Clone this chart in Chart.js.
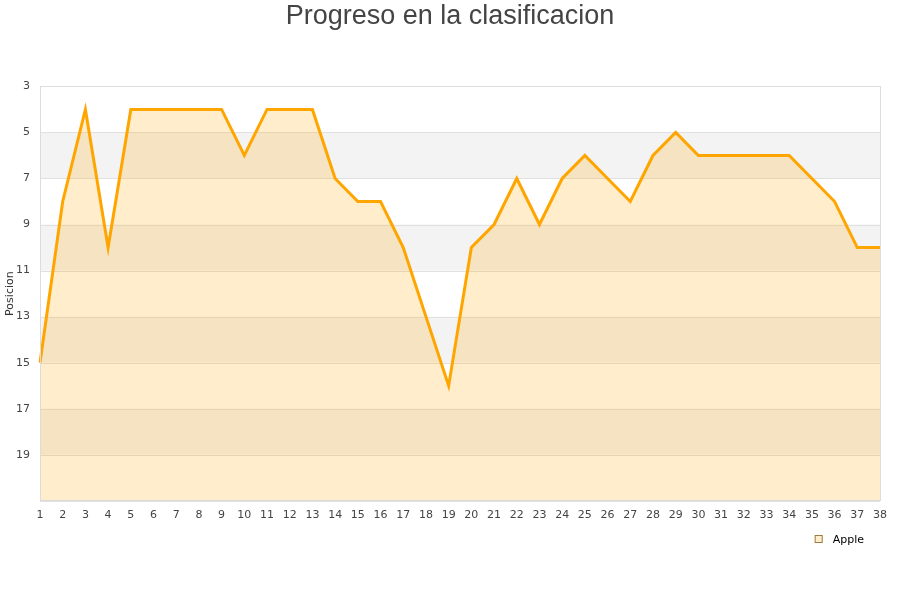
<!DOCTYPE html>
<html>
<head>
<meta charset="utf-8">
<script src="https://cdn.jsdelivr.net/npm/chart.js@4.4.0/dist/chart.umd.min.js"></script>
<style>
html,body{margin:0;padding:0;background:#fff;}
#wrap{width:900px;height:600px;}
</style>
</head>
<body>
<div id="wrap"><canvas id="c" width="900" height="600"></canvas></div>
<script>
const jornadas = ["1","2","3","4","5","6","7","8","9","10","11","12","13","14","15","16","17","18","19","20","21","22","23","24","25","26","27","28","29","30","31","32","33","34","35","36","37","38"];
const posicionApple = [15,8,4,10,4,4,4,4,4,6,4,4,4,7,8,8,10,13,16,10,9,7,9,7,6,7,8,6,5,6,6,6,6,6,7,8,10,10];
const yTicks = [3,5,7,9,11,13,15,17,19,21];

const bandsPlugin = {
  id: 'bands',
  beforeDatasetsDraw(chart) {
    const {ctx, chartArea, scales} = chart;
    const y = scales.y;
    ctx.save();
    for (let i = 0; i < yTicks.length - 1; i++) {
      if (i % 2 === 1) {
        const y1 = y.getPixelForValue(yTicks[i]);
        const y2 = y.getPixelForValue(yTicks[i + 1]);
        ctx.fillStyle = '#f3f3f3';
        ctx.fillRect(chartArea.left, Math.min(y1, y2), chartArea.right - chartArea.left, Math.abs(y2 - y1));
      }
    }
    ctx.strokeStyle = '#e0e0e0';
    ctx.lineWidth = 1;
    for (const t of yTicks) {
      const py = Math.round(y.getPixelForValue(t)) + 0.5;
      ctx.beginPath();
      ctx.moveTo(chartArea.left, py);
      ctx.lineTo(chartArea.right, py);
      ctx.stroke();
    }
    ctx.restore();
  },
  afterDatasetsDraw(chart) {
    const {ctx, chartArea} = chart;
    ctx.save();
    ctx.strokeStyle = '#dcdcdc';
    ctx.lineWidth = 1;
    ctx.strokeRect(Math.round(chartArea.left) + 0.5, Math.round(chartArea.top) + 0.5,
      Math.round(chartArea.right - chartArea.left), Math.round(chartArea.bottom - chartArea.top));
    ctx.restore();
  },
  afterDraw(chart) {
    // legend
    const {ctx, chartArea} = chart;
    const ds = chart.data.datasets[0];
    ctx.save();
    ctx.font = '11px "DejaVu Sans"';
    const tw = ctx.measureText(ds.label).width;
    const xEnd = chartArea.right - 16;
    const tx = xEnd - tw;
    const cy = 539;
    const bx = tx - 18;
    ctx.fillStyle = '#FFEECC';
    ctx.fillRect(bx, cy - 4, 8, 8);
    ctx.strokeStyle = '#9a7a45';
    ctx.lineWidth = 1;
    ctx.strokeRect(bx + 0.5, cy - 3.5, 7, 7);
    ctx.fillStyle = '#000';
    ctx.textBaseline = 'middle';
    ctx.fillText(ds.label, tx, cy + 1);
    ctx.restore();
  }
};

new Chart(document.getElementById('c'), {
  type: 'line',
  data: {
    labels: jornadas,
    datasets: [{
      label: 'Apple',
      data: posicionApple,
      borderColor: '#FFA500',
      backgroundColor: 'rgba(255,165,0,0.2)',
      borderWidth: 3,
      pointRadius: 0,
      tension: 0,
      fill: { value: 21 }
    }]
  },
  options: {
    responsive: false,
    animation: false,
    layout: { padding: { left: 0, right: 0, top: 0, bottom: 70 } },
    plugins: {
      title: {
        display: true,
        text: 'Progreso en la clasificacion',
        color: '#444',
        font: { family: 'Liberation Sans, Arial, sans-serif', size: 27, weight: 'normal' },
        padding: { top: 0, bottom: 54 }
      },
      legend: { display: false },
      tooltip: { enabled: false }
    },
    scales: {
      x: {
        offset: false,
        grid: { display: false, drawTicks: false },
        border: { display: false },
        ticks: { color: '#444', font: { family: 'DejaVu Sans', size: 11 }, maxRotation: 0, autoSkip: false, padding: 8 },
        afterFit(axis) { axis.paddingRight = 20; axis.paddingLeft = 0; }
      },
      y: {
        reverse: true,
        min: 3,
        max: 21,
        afterBuildTicks(axis) { axis.ticks = yTicks.map(v => ({ value: v })); },
        grid: { display: false, drawTicks: false },
        border: { display: false },
        ticks: {
          color: '#444',
          font: { family: 'DejaVu Sans', size: 11 },
          padding: 10,
          callback: (v) => v === 21 ? '' : String(v)
        },
        title: { display: true, text: 'Posicion', color: '#333', font: { family: 'DejaVu Sans', size: 11 }, padding: { top: 4, bottom: 0 } },
        afterFit(axis) { axis.width = 40; }
      }
    }
  },
  plugins: [bandsPlugin]
});
</script>
</body>
</html>
